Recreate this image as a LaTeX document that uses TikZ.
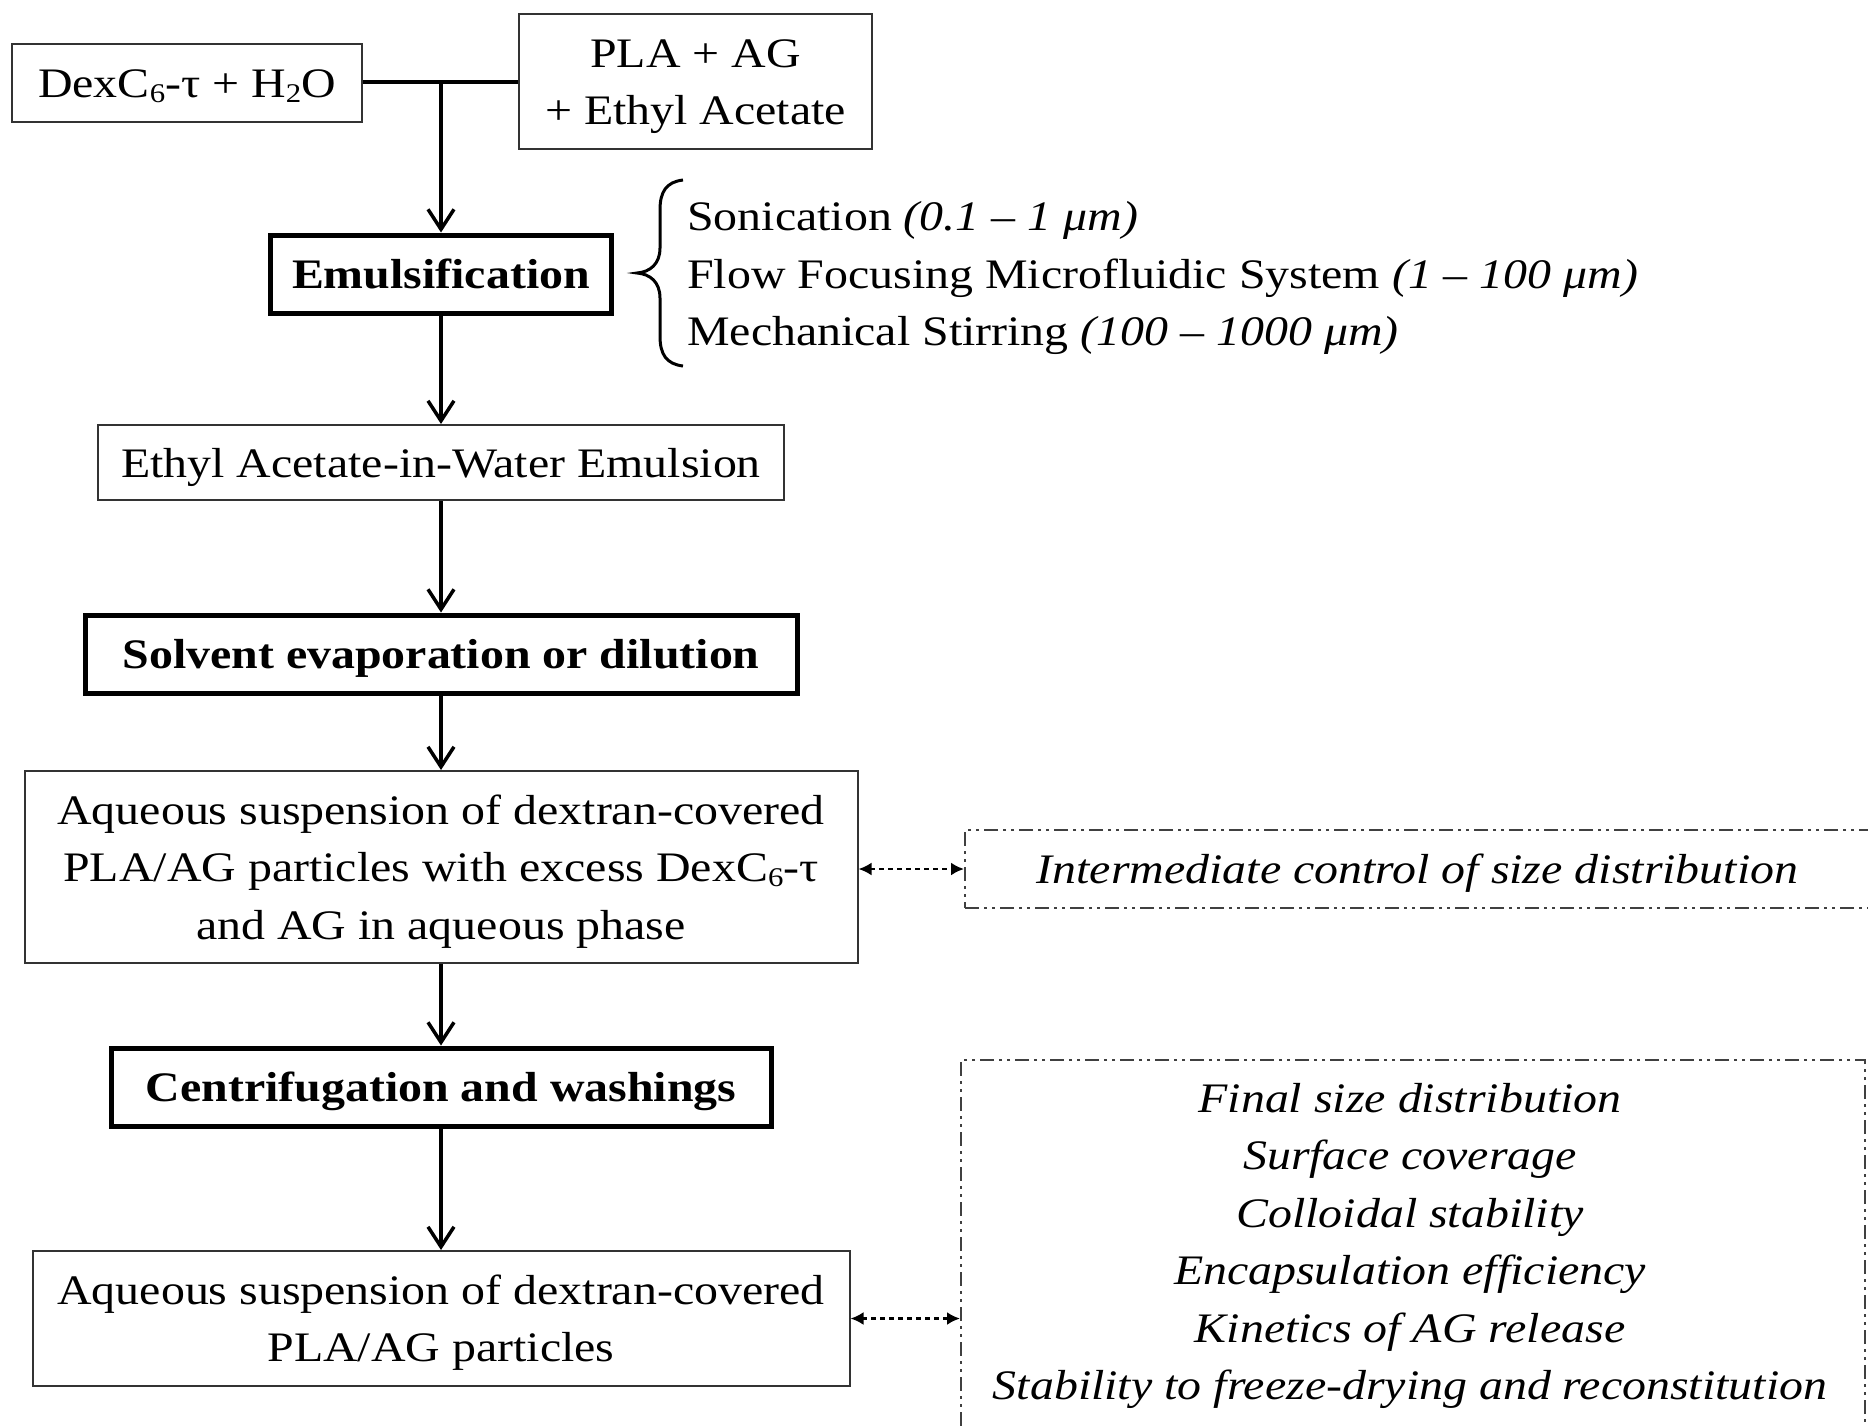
\documentclass[tikz,border=0pt]{standalone}
\usepackage{fontspec}
\setmainfont{Liberation Serif}[FakeStretch=1.14]
\usetikzlibrary{arrows.meta}
\newcommand{\subs}[1]{\raisebox{-0.28ex}{\fontsize{27}{27}\selectfont #1}}
\begin{document}
\begin{tikzpicture}[x=1pt,y=-1pt,
  every node/.style={font=\fontsize{42}{57.5}\selectfont, inner sep=0pt, align=center},
  one/.style={text height=29pt, text depth=0pt},
  two/.style={text height=86.5pt, text depth=0pt},
  three/.style={text height=144pt, text depth=0pt},
  thinbox/.style={draw=black!80, line width=2pt},
  thickbox/.style={draw=black, line width=5pt, font=\fontsize{42}{57.5}\selectfont\bfseries},
  dashbox/.style={draw=black!75, line width=2pt, dash pattern=on 14pt off 5pt on 3pt off 5pt on 3pt off 5pt},
  flow/.style={line width=3.5pt, -{Straight Barb[length=20pt,width=26pt,line width=3.5pt]}},
  dotarr/.style={line width=2.5pt, dash pattern=on 5pt off 4pt, {Latex[length=13pt,width=13pt]}-{Latex[length=13pt,width=13pt]}},
  itext/.style={font=\fontsize{42}{57.5}\selectfont\itshape}
]
\clip (0,0) rectangle (1868,1425);
\fill[white] (0,0) rectangle (1868,1425);

% top inputs
\node[thinbox, one, minimum width=350pt, minimum height=78pt] (dex) at (187,83) {DexC\subs{6}-τ + H\subs{2}O};
\node[thinbox, two, minimum width=353pt, minimum height=135pt] (pla) at (695.5,81.5) {PLA + AG\\+ Ethyl Acetate};
\coordinate (junc) at (441,82);
\draw[line width=4pt] (dex.east |- junc) -- (pla.west |- junc);

% main flow
\node[thickbox, one, minimum width=341pt, minimum height=78pt] (emul) at (441,274) {Emulsification};
\node[thinbox, one, minimum width=686pt, minimum height=75pt] (ethyl) at (441,462.5) {Ethyl Acetate-in-Water Emulsion};
\node[thickbox, one, minimum width=712pt, minimum height=78pt] (solv) at (441,654) {Solvent evaporation or dilution};
\node[thinbox, three, minimum width=833pt, minimum height=192pt] (aq1) at (441,867) {Aqueous suspension of dextran-covered\\PLA/AG particles with excess DexC\subs{6}-τ\\and AG in aqueous phase};
\node[thickbox, one, minimum width=660pt, minimum height=78pt] (cent) at (441,1087) {Centrifugation and washings};
\node[thinbox, two, minimum width=817pt, minimum height=135pt] (aq2) at (441,1318.5) {Aqueous suspension of dextran-covered\\PLA/AG particles};

\draw[flow] (junc) -- (emul.north);
\draw[flow] (emul.south) -- (ethyl.north);
\draw[flow] (ethyl.south) -- (solv.north);
\draw[flow] (solv.south) -- (aq1.north);
\draw[flow] (aq1.south) -- (cent.north);
\draw[flow] (cent.south) -- (aq2.north);

% brace and methods
\draw[line width=3pt] (683,180) .. controls (666,182) and (660,192) .. (660,210) -- (660,248)
  .. controls (660,264) and (650,272) .. (637,273) .. controls (650,274) and (660,282) .. (660,298)
  -- (660,336) .. controls (660,354) and (666,364) .. (683,366);
\node[anchor=west, align=left] (meth) at (687,278) {Sonication \textit{(0.1 – 1 μm)}\\Flow Focusing Microfluidic System \textit{(1 – 100 μm)}\\Mechanical Stirring \textit{(100 – 1000 μm)}};

% side controls
\node[dashbox, itext, one, minimum width=905pt, minimum height=78pt] (inter) at (1417.5,869) {Intermediate control of size distribution};
\node[dashbox, minimum width=904pt, minimum height=395pt, anchor=north west] (final) at (960,1059) {};
\node[itext] (flist) at (1410,1246) {Final size distribution\\Surface coverage\\Colloidal stability\\Encapsulation efficiency\\Kinetics of AG release\\Stability to freeze-drying and reconstitution};

\draw[dotarr] (aq1.east |- inter.west) -- (inter.west);
\draw[dotarr] (aq2.east) -- (aq2.east -| final.west);
\end{tikzpicture}
\end{document}
